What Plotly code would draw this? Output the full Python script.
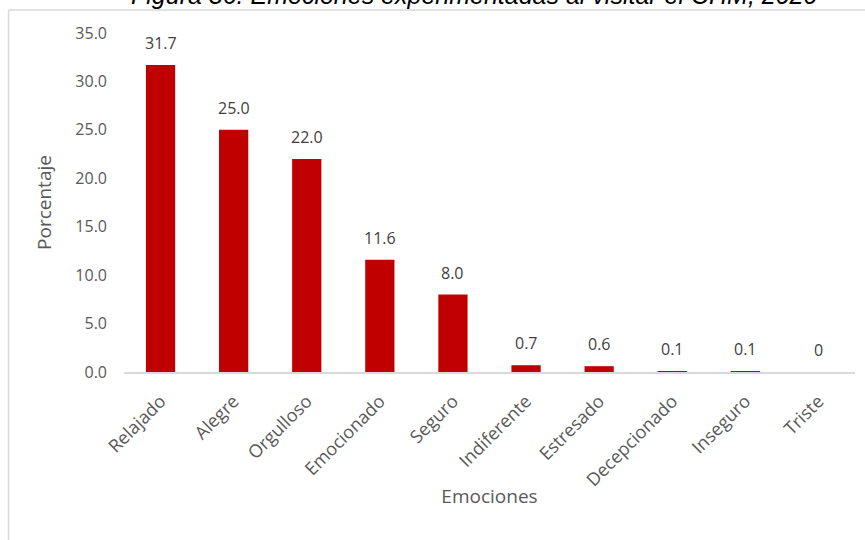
import plotly.graph_objects as go

categories = ["Relajado", "Alegre", "Orgulloso", "Emocionado", "Seguro",
              "Indiferente", "Estresado", "Decepcionado", "Inseguro", "Triste"]
values = [31.7, 25.0, 22.0, 11.6, 8.0, 0.7, 0.6, 0.1, 0.1, 0]
labels = [f"{v:.1f}" if v else "0" for v in values]
y_ticks = [0, 5, 10, 15, 20, 25, 30, 35]
title_text = "Figura 36. Emociones experimentadas al visitar el CHM, 2020"

W, H = 865, 540
L, R, T, B = 124, 10, 33, 168
pw, ph = W - L - R, H - T - B

def px_x(p):
    return (p - L) / pw

def px_y(p):
    return (H - B - p) / ph

FONT = "Open Sans"

fig = go.Figure()
fig.add_trace(go.Bar(
    x=categories, y=values,
    marker=dict(color="#c00000", line=dict(width=0)),
    hoverinfo="x+y",
))

for c, v, t in zip(categories, values, labels):
    fig.add_annotation(x=c, y=v, text=t, showarrow=False, yanchor="bottom",
                       yshift=9, font=dict(family=FONT, size=16, color="#404040"))

fig.add_annotation(xref="paper", yref="paper", x=px_x(474), y=px_y(11),
                   xanchor="center", yanchor="bottom", text=f"<i>{title_text}</i>",
                   showarrow=False,
                   font=dict(family="Liberation Sans", size=25, color="#000000"))

border = dict(color="#d9d9d9", width=1.5)
fig.add_shape(type="line", xref="paper", yref="paper", x0=px_x(8.5), x1=px_x(866),
              y0=px_y(10), y1=px_y(10), line=border)
fig.add_shape(type="line", xref="paper", yref="paper", x0=px_x(8.5), x1=px_x(8.5),
              y0=px_y(10), y1=px_y(545), line=border)

fig.update_layout(
    width=W, height=H,
    margin=dict(l=L, r=R, t=T, b=B, autoexpand=False),
    paper_bgcolor="white", plot_bgcolor="white",
    bargap=0.6, showlegend=False,
    font=dict(family=FONT, size=16, color="#595959"),
)
fig.update_xaxes(
    showline=True, linecolor="#d9d9d9", linewidth=1.5, showgrid=False,
    ticks="", tickangle=-45, ticklabelstandoff=10,
    tickfont=dict(family=FONT, size=18, color="#595959"),
    title=dict(text="Emociones", standoff=0,
               font=dict(family=FONT, size=19, color="#595959")),
)
fig.update_yaxes(
    range=[0, 35], tickvals=y_ticks, tickformat=".1f",
    showline=False, showgrid=False, zeroline=False, ticks="",
    ticklabelstandoff=16,
    tickfont=dict(family=FONT, size=16, color="#595959"),
    title=dict(text="Porcentaje", standoff=18,
               font=dict(family=FONT, size=19, color="#595959")),
)

fig.write_html("out.html")
